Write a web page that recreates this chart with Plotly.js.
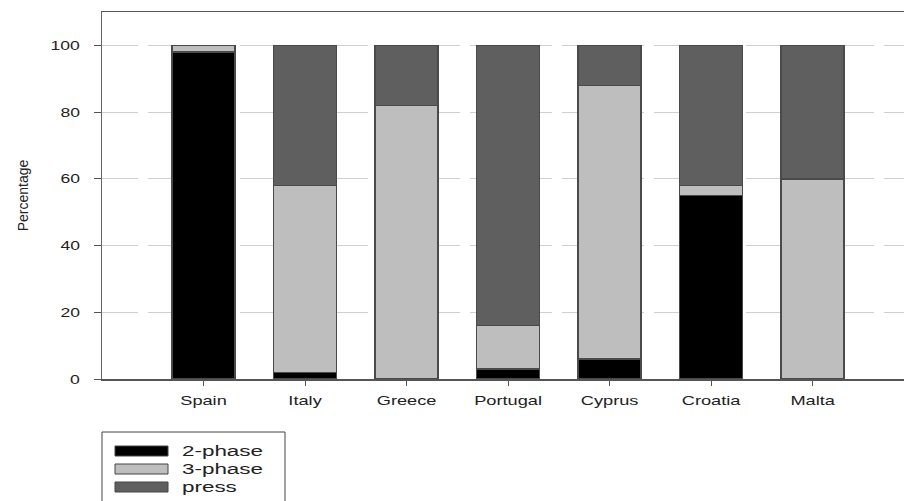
<!DOCTYPE html>
<html>
<head>
<meta charset="utf-8">
<script src="https://cdn.plot.ly/plotly-3.0.1.min.js"></script>
<style>html,body{margin:0;padding:0;background:#fff;overflow:hidden;}#chart{width:904px;height:501px;}</style>
</head>
<body>
<div id="chart"></div>
<script>
const countries = ["Spain", "Italy", "Greece", "Portugal", "Cyprus", "Croatia", "Malta"];
const twoPhase = [98, 2, 0, 3, 6, 55, 0];
const threePhase = [2, 56, 82, 13, 82, 3, 60];
const press = [0, 42, 18, 84, 12, 42, 40];
const seriesNames = ["2-phase", "3-phase", "press"];
const seriesColors = ["#000000", "#bebebe", "#5f5f5f"];
const yTicks = [0, 20, 40, 60, 80, 100];

const W = 904, H = 501;
const M = {l: 102, r: 0, t: 12, b: 122};
const plotW = W - M.l - M.r, plotH = H - M.t - M.b;
const px = x => (x - M.l) / plotW;
const py = y => (H - M.b - y) / plotH;

const outline = {color: "#4a4a4a", width: 1.5};
const seriesValues = [twoPhase, threePhase, press];
const traces = seriesNames.map((name, i) => ({
  type: "bar", x: countries, y: seriesValues[i], name: name, width: 0.62,
  marker: {color: seriesColors[i], line: outline}, hoverinfo: "skip", showlegend: false
}));

// manual legend (box, swatches, labels)
const shapes = [{
  type: "rect", xref: "paper", yref: "paper",
  x0: px(102), x1: px(285), y0: py(432), y1: py(540),
  line: {color: "#444", width: 1}, fillcolor: "rgba(0,0,0,0)", layer: "above"
}];
const annotations = [];
seriesNames.forEach((name, i) => {
  const cy = 451 + i * 18;
  shapes.push({
    type: "rect", xref: "paper", yref: "paper",
    x0: px(115), x1: px(168), y0: py(cy + 5), y1: py(cy - 5),
    line: {color: "#444", width: 1}, fillcolor: seriesColors[i], layer: "above"
  });
  annotations.push({
    xref: "paper", yref: "paper", x: px(180), y: py(cy),
    xanchor: "left", yanchor: "middle", align: "left", showarrow: false,
    text: name, font: {size: 14, color: "#222"}
  });
});

const layout = {
  width: W, height: H,
  margin: M,
  barmode: "stack",
  paper_bgcolor: "#fff", plot_bgcolor: "#fff",
  font: {family: "Liberation Sans, Arial, sans-serif", size: 14, color: "#222"},
  showlegend: false,
  shapes: shapes,
  annotations: annotations,
  xaxis: {
    type: "category", range: [-1, 6.9],
    showline: true, linecolor: "#555", linewidth: 1.5, mirror: true,
    ticks: "outside", ticklen: 5, tickcolor: "#555",
    ticklabelstandoff: 4,
    showgrid: false, zeroline: false, fixedrange: true, automargin: false,
    tickfont: {size: 13, color: "#222"}
  },
  yaxis: {
    range: [0, 110], tickvals: yTicks, ticktext: yTicks.map(String),
    showline: true, linecolor: "#666", linewidth: 1.5,
    ticks: "outside", ticklen: 7, tickcolor: "#555",
    ticklabelstandoff: 11,
    showgrid: true, gridcolor: "#d0d0d0", griddash: "36px,10px", gridwidth: 1,
    zeroline: false, fixedrange: true, automargin: false,
    tickfont: {size: 13, color: "#222"},
    title: {text: "Percentage", font: {size: 14, color: "#222"}, standoff: 26}
  }
};

Plotly.newPlot("chart", traces, layout, {staticPlot: true, displayModeBar: false}).then(gd => {
  const stretch = (sel, f) => gd.querySelectorAll(sel).forEach(t => {
    const w = t.getComputedTextLength();
    t.setAttribute("textLength", (w * f).toFixed(1));
    t.setAttribute("lengthAdjust", "spacingAndGlyphs");
  });
  stretch(".xtick text", 1.4);
  stretch(".ytick text", 1.35);
  stretch(".annotation-text", 1.6);
});
</script>
</body>
</html>
